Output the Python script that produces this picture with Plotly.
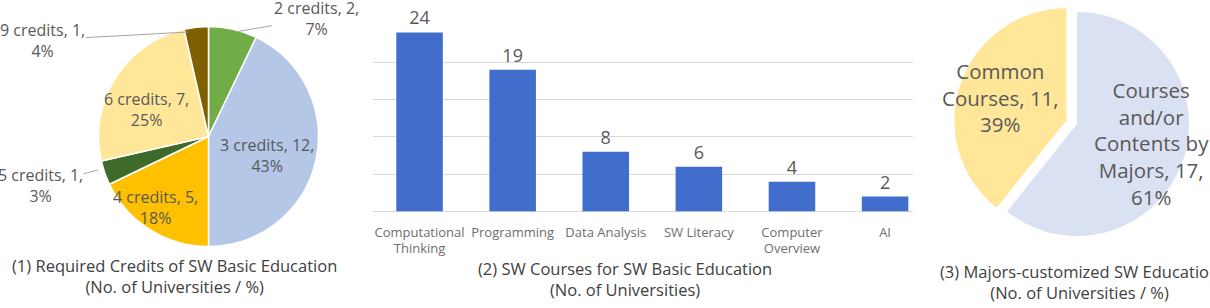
import plotly.graph_objects as go

# ---------------- data ----------------
credit_labels = ['2 credits', '3 credits', '4 credits', '5 credits', '6 credits', '9 credits']
credit_counts = [2, 12, 5, 1, 7, 1]
credit_pcts = ['7%', '43%', '18%', '3%', '25%', '4%']

course_names = ['Computational<br>Thinking', 'Programming', 'Data Analysis',
                'SW Literacy', 'Computer<br>Overview', 'AI']
course_counts = [24, 19, 8, 6, 4, 2]

major_labels = ['Courses<br>and/or<br>Contents by<br>Majors', 'Common<br>Courses']
major_counts = [17, 11]
major_pcts = ['61%', '39%']

titles = [
    ('(1) Required Credits of SW Basic Education', '(No. of Universities / %)'),
    ('(2) SW Courses for SW Basic Education', '(No. of Universities)'),
    ('(3) Majors-customized SW Education', '(No. of Universities / %)'),
]

# ---------------- styles ----------------
credit_colors = ['#70AD47', '#B4C7E7', '#FFC000', '#3F6B2A', '#FFE699', '#7F6000']
major_colors = ['#D9E1F2', '#FFE699']
FONT = 'Open Sans'
LABEL_GRAY = '#595959'

W, H = 1210, 308
def px(x):
    return x / W
def py(y):
    return 1 - y / H

fig = go.Figure()

# (1) pie of required credits
fig.add_trace(go.Pie(
    labels=credit_labels, values=credit_counts, sort=False,
    direction='clockwise', rotation=0,
    marker=dict(colors=credit_colors, line=dict(color='white', width=1.5)),
    textinfo='none', showlegend=False,
    domain=dict(x=[px(98.5), px(318.5)], y=[py(246.5), py(26.5)]),
))

# (2) bar chart of courses
fig.add_trace(go.Bar(
    x=course_names, y=course_counts, width=0.5,
    marker=dict(color='#416ECC', line=dict(width=0)),
    text=course_counts, textposition='outside', cliponaxis=False,
    textfont=dict(size=18, color=LABEL_GRAY, family=FONT),
    showlegend=False,
))

# (3) pie of majors-customized education
fig.add_trace(go.Pie(
    labels=major_labels, values=major_counts, sort=False,
    direction='clockwise', rotation=0, pull=[0, 0.1],
    marker=dict(colors=major_colors, line=dict(color='white', width=0)),
    textinfo='none', showlegend=False,
    domain=dict(x=[px(953.8), px(1200.2)], y=[py(247.2), py(0.8)]),
))

annotations = []

# labels of pie (1): (center x, center y, arrow tip or None)
credit_label_pos = [
    (316, 18, (235, 32)),
    (267, 156, None),
    (155, 207.5, None),
    (40, 185, (98, 170)),
    (146, 109.5, None),
    (42, 40, (188, 32)),
]
for lab, cnt, pct, (cx, cy, tip) in zip(credit_labels, credit_counts, credit_pcts, credit_label_pos):
    txt = f'{lab}, {cnt},<br>{pct}'
    if tip is None:
        annotations.append(dict(x=px(cx), y=py(cy), xref='paper', yref='paper', text=txt,
                                showarrow=False, xanchor='center', yanchor='middle',
                                font=dict(size=16, color=LABEL_GRAY, family=FONT)))
    else:
        annotations.append(dict(x=px(tip[0]), y=py(tip[1]), xref='paper', yref='paper', text=txt,
                                showarrow=True, arrowhead=0, arrowwidth=1, arrowcolor='#A6A6A6',
                                ax=cx - tip[0], ay=cy - tip[1], standoff=0,
                                font=dict(size=16, color=LABEL_GRAY, family=FONT)))

# labels of pie (3)
major_label_pos = [(1151, 144), (1000, 98)]
for lab, cnt, pct, (cx, cy) in zip(major_labels, major_counts, major_pcts, major_label_pos):
    annotations.append(dict(x=px(cx), y=py(cy), xref='paper', yref='paper',
                            text=f'{lab}, {cnt},<br>{pct}', showarrow=False,
                            xanchor='center', yanchor='middle',
                            font=dict(size=20.5, color=LABEL_GRAY, family=FONT)))

# titles under each chart
title_pos = [(174.5, 276), (625, 279), (1079.5, 282)]
for (l1, l2), (cx, cy) in zip(titles, title_pos):
    annotations.append(dict(x=px(cx), y=py(cy), xref='paper', yref='paper',
                            text=f'{l1}<br>{l2}', showarrow=False,
                            xanchor='center', yanchor='middle',
                            font=dict(size=16.5, color='#404040', family=FONT)))

fig.update_layout(
    width=W, height=H,
    margin=dict(l=0, r=0, t=0, b=0),
    paper_bgcolor='white', plot_bgcolor='white',
    font=dict(family=FONT, color=LABEL_GRAY),
    xaxis=dict(domain=[px(373), px(913)], range=[-0.5, 5.3], showgrid=False,
               showline=False, zeroline=False, ticks='', ticklabelstandoff=11,
               tickfont=dict(size=13, color='#6E6E6E', family=FONT), fixedrange=True),
    yaxis=dict(domain=[py(211.5), py(25)], range=[0, 25], dtick=5, showgrid=True,
               gridcolor='#D9D9D9', gridwidth=1, zeroline=True, zerolinecolor='#D9D9D9',
               zerolinewidth=1, showticklabels=False, showline=False, fixedrange=True),
    annotations=annotations,
)

fig.write_html('out.html')
